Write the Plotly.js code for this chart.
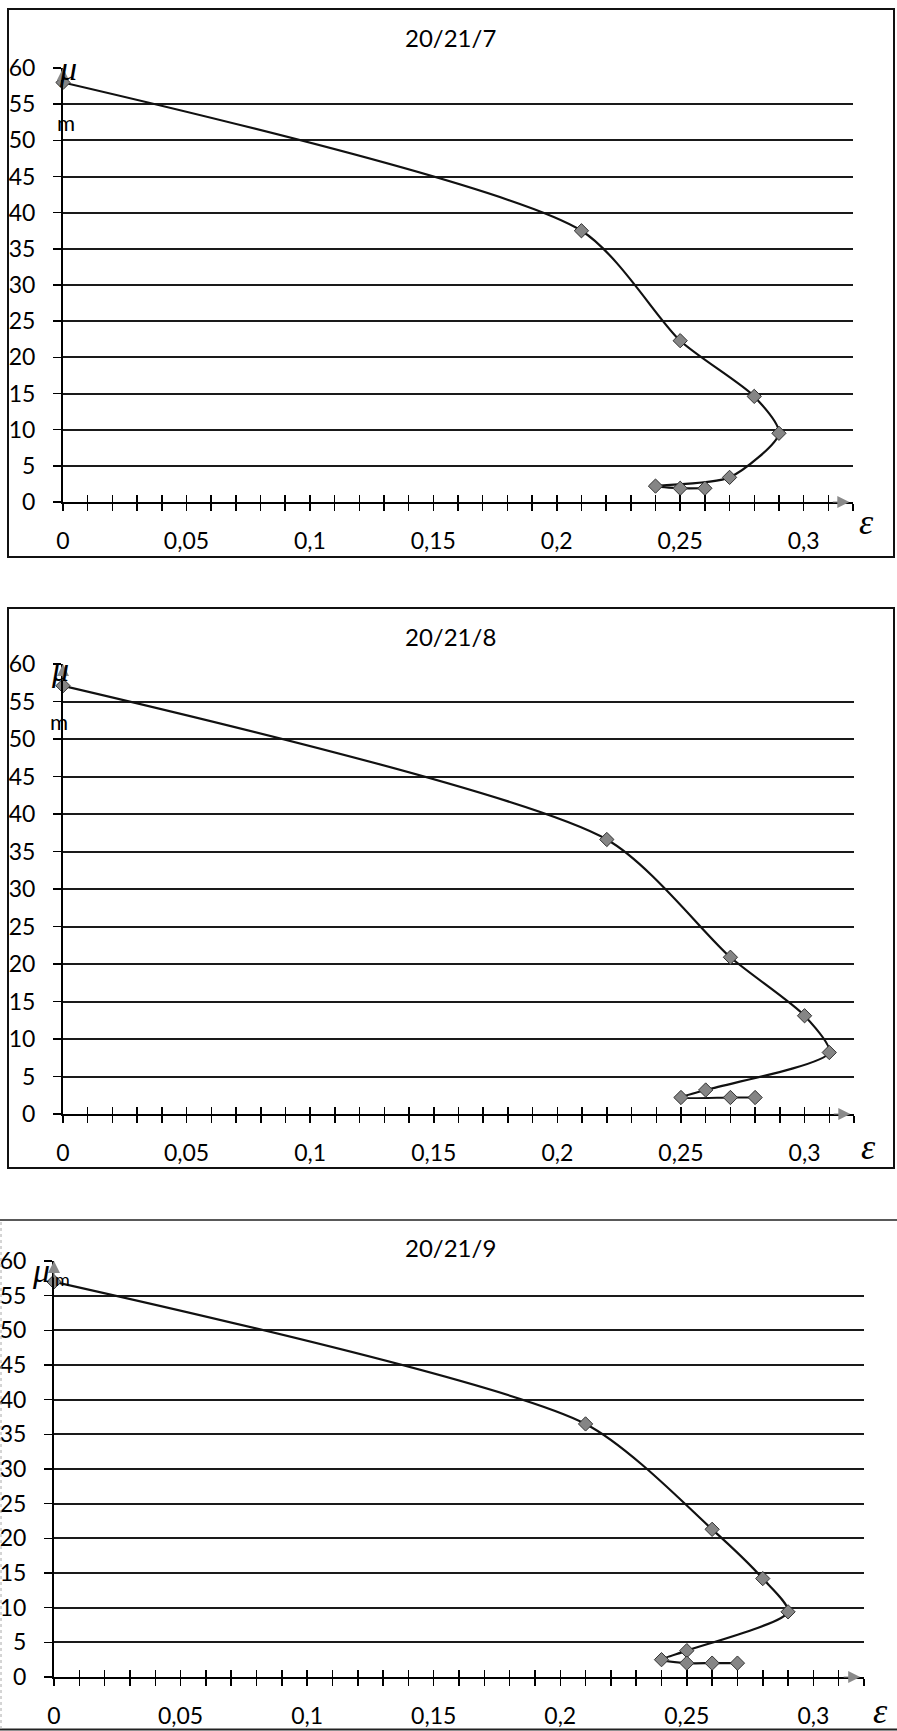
<!DOCTYPE html>
<html><head><meta charset="utf-8">
<script src="https://cdn.plot.ly/plotly-3.0.1.min.js"></script>
<style>html,body{margin:0;padding:0;background:#fff;}#chart{width:897px;height:1731px;}</style>
</head><body><div id="chart"></div>
<script>
// ---- data ----
const titles = ['20/21/7', '20/21/8', '20/21/9'];
const eps7 = [0, 0.21, 0.25, 0.28, 0.29, 0.27, 0.24, 0.25, 0.26];
const mu7  = [58, 37.5, 22.3, 14.6, 9.5, 3.4, 2.2, 1.9, 1.9];
const eps8 = [0, 0.22, 0.27, 0.30, 0.31, 0.26, 0.25, 0.27, 0.28];
const mu8  = [57.1, 36.6, 20.9, 13.1, 8.2, 3.2, 2.2, 2.2, 2.2];
const eps9 = [0, 0.21, 0.26, 0.28, 0.29, 0.25, 0.24, 0.25, 0.26, 0.27];
const mu9  = [57, 36.5, 21.3, 14.2, 9.4, 3.8, 2.5, 2.0, 2.0, 2.0];
const yTickVals = [0, 5, 10, 15, 20, 25, 30, 35, 40, 45, 50, 55, 60];
const xTickVals = [0, 0.05, 0.1, 0.15, 0.2, 0.25, 0.3];
const xTickText = ['0', '0,05', '0,1', '0,15', '0,2', '0,25', '0,3'];
const xMax = 0.32, yMax = 60;

// ---- layout geometry (pixels) ----
const W = 897, H = 1731;
const px = v => v / W, py = v => 1 - v / H;
const panels = [
  {xl: 63, xr: 853, yb: 502, yt: 68, mu: [68, 68], m: [66, 122], mSize: 22, eps: [866, 522], title: 37},
  {xl: 63, xr: 854, yb: 1114, yt: 664, mu: [60, 670], m: [59, 721], mSize: 22, eps: [868, 1147], title: 636},
  {xl: 54, xr: 864, yb: 1677, yt: 1261, mu: [41, 1270], m: [62, 1279], mSize: 18, eps: [880, 1711], title: 1247}
];
const series = [[eps7, mu7], [eps8, mu8], [eps9, mu9]];
const FONT = 'Lato, Carlito, Calibri, sans-serif';

const data = [];
const layout = {
  width: W, height: H, margin: {l: 0, r: 0, t: 0, b: 0},
  paper_bgcolor: '#fff', plot_bgcolor: 'rgba(0,0,0,0)',
  showlegend: false, hovermode: false,
  annotations: [], shapes: []
};

panels.forEach((p, i) => {
  const n = i + 1;
  const xs = n === 1 ? '' : String(n);
  const ov = String(n + 3);
  data.push({
    x: series[i][0], y: series[i][1], xaxis: 'x' + xs, yaxis: 'y' + xs,
    type: 'scatter', mode: 'lines+markers',
    line: {color: '#111', width: 2.2, shape: 'spline', smoothing: 0.7},
    marker: {symbol: 'diamond', size: 11, color: '#858585', line: {color: '#333', width: 1}},
    cliponaxis: false
  });
  data.push({x: [], y: [], xaxis: 'x' + ov, yaxis: 'y' + xs, type: 'scatter', mode: 'markers'});
  const dom = [px(p.xl), px(p.xr)];
  layout['xaxis' + xs] = {
    domain: dom, range: [0, xMax], anchor: 'y' + xs,
    showgrid: false, zeroline: false, showline: true, linecolor: '#000', linewidth: 2,
    tickvals: xTickVals, ticktext: xTickText, ticks: 'outside', ticklen: 7, tickwidth: 1.5, tickcolor: '#000',
    minor: {dtick: 0.01, tick0: 0, ticks: 'outside', ticklen: 7, tickwidth: 1.5, tickcolor: '#000'},
    tickfont: {family: FONT, size: 23, color: '#000'}, ticklabelstandoff: 10, fixedrange: true
  };
  layout['xaxis' + ov] = {
    overlaying: 'x' + xs, anchor: 'y' + xs, side: 'bottom', range: [0, xMax],
    showgrid: false, zeroline: false, showline: false, showticklabels: false,
    tickmode: 'linear', tick0: 0, dtick: 0.01, ticks: 'inside', ticklen: 7, tickwidth: 1.5, tickcolor: '#000'
  };
  layout['yaxis' + xs] = {
    domain: [py(p.yb), py(p.yt)], range: [0, yMax], anchor: 'x' + xs,
    showgrid: true, gridcolor: '#1a1a1a', gridwidth: 2, zeroline: false,
    showline: true, linecolor: '#000', linewidth: 2,
    tickvals: yTickVals, ticks: 'outside', ticklen: 8, tickwidth: 1.5, tickcolor: '#000',
    tickfont: {family: FONT, size: 23, color: '#000'}, ticklabelstandoff: 13, fixedrange: true
  };
  // title
  layout.annotations.push({text: titles[i], xref: 'paper', yref: 'paper', x: px(451), y: py(p.title),
    xanchor: 'center', yanchor: 'middle', showarrow: false, font: {family: FONT, size: 24, color: '#000'}});
  // axis arrows
  layout.annotations.push({text: '', xref: 'x' + xs, yref: 'y' + xs, x: xMax - 0.0015, y: 0, ax: -18, ay: 0,
    showarrow: true, arrowhead: 2, arrowsize: 2, arrowwidth: 1.2, arrowcolor: '#8a8a8a'});
  layout.annotations.push({text: '', xref: 'x' + xs, yref: 'y' + xs, x: 0, y: yMax, ax: 0, ay: 18,
    showarrow: true, arrowhead: 2, arrowsize: 2, arrowwidth: 1.2, arrowcolor: '#8a8a8a'});
  // axis symbols
  layout.annotations.push({text: 'μ', xref: 'paper', yref: 'paper', x: px(p.mu[0]), y: py(p.mu[1]),
    xanchor: 'center', yanchor: 'middle', showarrow: false,
    font: {family: 'Liberation Serif, DejaVu Serif, serif', size: 34, color: '#000', style: 'italic'}});
  layout.annotations.push({text: 'm', xref: 'paper', yref: 'paper', x: px(p.m[0]), y: py(p.m[1]),
    xanchor: 'center', yanchor: 'middle', showarrow: false,
    font: {family: FONT, size: p.mSize, color: '#000'}});
  layout.annotations.push({text: 'ε', xref: 'paper', yref: 'paper', x: px(p.eps[0]), y: py(p.eps[1]),
    xanchor: 'center', yanchor: 'middle', showarrow: false,
    font: {family: 'Liberation Serif, DejaVu Serif, serif', size: 36, color: '#000', style: 'italic'}});
});

// frames
const frameLine = {color: '#111', width: 2};
layout.shapes.push({type: 'rect', xref: 'paper', yref: 'paper', x0: px(8), x1: px(894), y0: py(557), y1: py(9), line: frameLine, layer: 'below'});
layout.shapes.push({type: 'rect', xref: 'paper', yref: 'paper', x0: px(8), x1: px(894), y0: py(1168), y1: py(608), line: frameLine, layer: 'below'});
layout.shapes.push({type: 'line', xref: 'paper', yref: 'paper', x0: 0, x1: 1, y0: py(1220), y1: py(1220), line: {color: '#222', width: 1.6}});
layout.shapes.push({type: 'line', xref: 'paper', yref: 'paper', x0: 0, x1: 1, y0: py(1729.5), y1: py(1729.5), line: {color: '#222', width: 2}});
layout.shapes.push({type: 'line', xref: 'paper', yref: 'paper', x0: px(1), x1: px(1), y0: py(1729), y1: py(1220), line: {color: '#aaa', width: 1, dash: 'dot'}});

Plotly.newPlot('chart', data, layout, {staticPlot: true, displayModeBar: false});
</script></body></html>
